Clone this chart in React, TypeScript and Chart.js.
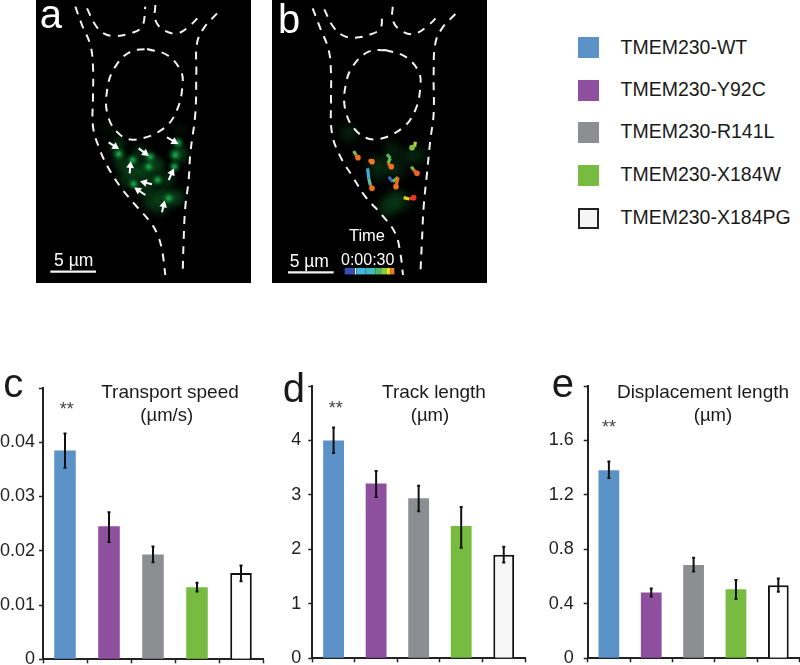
import React, { useEffect, useRef } from "react";
import { Chart, registerables } from "chart.js";

Chart.register(...registerables);

const FONT = '"Liberation Sans", Arial, sans-serif';

// ---------- bar data ----------
const categories = ["TMEM230-WT", "TMEM230-Y92C", "TMEM230-R141L", "TMEM230-X184W", "TMEM230-X184PG"];
const barColors = ["#5b93c9", "#8f4f9f", "#8c8e91", "#77bb41", "#ffffff"];

const speedValues = [0.0385, 0.0245, 0.0193, 0.0133, 0.0159];
const speedLow = [0.0353, 0.0216, 0.0179, 0.0125, 0.0144];
const speedHigh = [0.0416, 0.0271, 0.0208, 0.0141, 0.0173];
const speedTicks = ["0", "0.01", "0.02", "0.03", "0.04", ""];

const trackValues = [4.0, 3.21, 2.94, 2.43, 1.9];
const trackLow = [3.77, 2.96, 2.7, 2.03, 1.76];
const trackHigh = [4.24, 3.44, 3.17, 2.78, 2.05];
const trackTicks = ["0", "1", "2", "3", "4", ""];

const dispValues = [1.382, 0.483, 0.686, 0.507, 0.537];
const dispLow = [1.324, 0.453, 0.637, 0.436, 0.488];
const dispHigh = [1.446, 0.512, 0.738, 0.576, 0.586];
const dispTicks = ["0", "0.4", "0.8", "1.2", "1.6", ""];

// ---------- microscopy panel data (image coordinates) ----------
type P = [number, number];
const outlinesA: P[][] = [
  [[165,20],[185,75],[210,135],[218,200],[218,290],[218,380],[235,440],[262,500],[300,560],[345,615],[385,660],[410,700],[425,750],[435,825]],
  [[200,25],[225,75],[250,100],[280,108],[330,100],[365,80],[375,20]],
  [[405,15],[405,60],[430,90],[470,100],[505,80],[545,40]],
  [[590,40],[550,85],[530,130],[528,220],[525,340],[510,460],[505,540],[495,620],[490,720],[487,825]],
  [[380,147],[440,165],[480,210],[487,250],[470,330],[430,385],[350,418],[300,405],[262,345],[262,260],[285,200],[330,155],[380,147]],
];
const outlinesB: P[][] = [
  [[142,25],[165,85],[190,150],[197,220],[197,300],[200,400],[225,470],[262,530],[300,590],[350,645],[390,700],[405,760],[413,825]],
  [[177,28],[200,75],[230,105],[265,113],[310,105],[345,85],[350,40]],
  [[382,20],[382,60],[405,90],[445,102],[490,75],[520,45]],
  [[570,42],[530,85],[510,130],[505,220],[505,340],[495,420],[485,520],[475,620],[470,720],[465,825]],
  [[360,150],[420,170],[460,215],[465,260],[450,330],[410,385],[330,418],[275,395],[240,330],[242,250],[265,195],[310,155],[360,150]],
];
const spotsBright: P[] = [[295,462],[337,480],[390,470],[385,500],[412,540],[340,552],[445,595],[473,428],[465,465],[462,500]];
const spotsDimA: P[] = [[370,505],[410,590],[390,610],[470,465],[360,525],[430,585],[315,505],[340,510],[390,540],[300,480],[455,600],[400,490],[420,620],[480,460],[360,460],[320,540],[375,570],[440,540],[410,500],[470,590],[290,440]];
const spotsFaintA: P[] = [[265,385],[300,420],[480,390]];
const spotsDimB: P[] = [[380,600],[360,620],[460,465],[370,495],[250,400],[400,590],[340,520],[395,510],[330,490],[425,470],[375,625],[410,610],[380,450]];
const arrowTips: P[] = [[285,440],[375,460],[462,425],[330,497],[455,518],[372,547],[353,570],[430,615]];
const arrowTails: P[] = [[265,427],[355,445],[440,412],[328,520],[445,540],[395,553],[375,585],[425,637]];
const tracks: P[][] = [
  [[265,453],[272,465],[278,473]],
  [[310,480],[320,485]],
  [[365,463],[375,475],[368,490],[378,500]],
  [[307,505],[310,535],[315,555],[320,565]],
  [[370,530],[382,545],[398,532],[392,560]],
  [[438,500],[445,510],[455,520]],
  [[450,425],[448,440],[440,443]],
  [[415,593],[432,597],[445,593]],
];
const trackColors: string[][] = [
  ["#35a8e0","#7cc04a","#f0701f"],
  ["#5fbb55","#f07a20"],
  ["#3cb0e0","#55bb66","#6cc04a","#f0701f"],
  ["#3f6fc8","#3cb0e0","#60c0a0","#f0701f"],
  ["#3f50c0","#3f60c8","#5fbb55","#f0701f"],
  ["#3f60c8","#6cc04a","#f0601f"],
  ["#60c040","#b0d030","#80c040"],
  ["#50b860","#e8d020","#e83a20"],
];
const colorbarX = [238,268,269,273,274,300,330,350,365,375,387];
const colorbarY = [813.5,813.5,813.5,813.5,813.5,813.5,813.5,813.5,813.5,813.5,813.5];
const colorbarColors = ["#3b4eb5","#3b60c0","#ffffff","#ffffff","#40b8e0","#40b8c0","#50b860","#90c840","#f0e020","#f08020","#e82a20"];
const scaleBarA: P[] = [[90,815],[227,815]];
const scaleBarB: P[] = [[68,817],[205,817]];

type TextItem = { t: string; x: number; y: number; size: number; color?: string; align?: CanvasTextAlign };

const panelText = {
  id: "panelText",
  afterDraw(chart: any, _a: any, opts: any) {
    const ctx = chart.ctx;
    ctx.save();
    ctx.textBaseline = "alphabetic";
    (opts.items || []).forEach((it: TextItem) => {
      ctx.font = `${it.size}px ${FONT}`;
      ctx.fillStyle = it.color || "#1a1a1a";
      ctx.textAlign = it.align || "center";
      ctx.fillText(it.t, it.x, it.y);
    });
    ctx.restore();
  },
};

const errorBars = {
  id: "errorBars",
  afterDatasetsDraw(chart: any, _a: any, opts: any) {
    if (!opts.low) return;
    const ctx = chart.ctx;
    const meta = chart.getDatasetMeta(0);
    const y = chart.scales.y;
    ctx.save();
    ctx.strokeStyle = "#111";
    ctx.lineWidth = 2;
    meta.data.forEach((bar: any, i: number) => {
      const lo = y.getPixelForValue(opts.low[i]);
      const hi = y.getPixelForValue(opts.high[i]);
      ctx.beginPath();
      ctx.moveTo(bar.x, hi);
      ctx.lineTo(bar.x, lo);
      ctx.moveTo(bar.x - 1.5, hi);
      ctx.lineTo(bar.x + 1.5, hi);
      ctx.moveTo(bar.x - 1.5, lo);
      ctx.lineTo(bar.x + 1.5, lo);
      ctx.stroke();
    });
    ctx.restore();
  },
};

const softSpots = {
  id: "softSpots",
  beforeDatasetDraw(chart: any, args: any) {
    const b = chart.data.datasets[args.index].blurPx;
    if (b) {
      chart.ctx.save();
      chart.ctx.filter = `blur(${b}px)`;
    }
  },
  afterDatasetDraw(chart: any, args: any) {
    if (chart.data.datasets[args.index].blurPx) chart.ctx.restore();
  },
};

function useChart(make: (c: HTMLCanvasElement) => Chart) {
  const ref = useRef<HTMLCanvasElement>(null);
  useEffect(() => {
    const chart = make(ref.current!);
    return () => chart.destroy();
  }, []);
  return ref;
}

type BarProps = {
  left: number; width: number; values: number[]; low: number[]; high: number[]; ticks: string[];
  max: number; step: number; axisX: number; axisTop: number; axisBottom: number; padRight: number;
  labelPad: number; lastFill: string; items: TextItem[];
};
const CANVAS_TOP = 360;
const CANVAS_H = 305;

function BarPanel(p: BarProps) {
  const ref = useChart((c) =>
    new Chart(c, {
      type: "bar",
      data: {
        labels: categories,
        datasets: [{
          data: p.values,
          backgroundColor: barColors.map((col, i) => (i === 4 ? p.lastFill : col)),
          borderColor: ["transparent", "transparent", "transparent", "transparent", "#111"],
          borderWidth: [0, 0, 0, 0, 2],
          barPercentage: 0.49,
          categoryPercentage: 1,
        }],
      },
      options: {
        animation: false,
        responsive: false,
        devicePixelRatio: 1,
        layout: { autoPadding: false, padding: { top: p.axisTop - CANVAS_TOP, right: p.padRight, left: 0, bottom: 0 } },
        plugins: {
          legend: { display: false },
          tooltip: { enabled: false },
          panelText: { items: p.items },
          errorBars: { low: p.low, high: p.high },
        } as any,
        scales: {
          x: {
            grid: { drawOnChartArea: false, drawTicks: true, tickLength: 4, tickColor: "#222", tickWidth: 1.5 },
            border: { color: "#222", width: 2 },
            ticks: { display: false },
            afterFit: (s: any) => { s.height = CANVAS_TOP + CANVAS_H - p.axisBottom; },
          },
          y: {
            min: 0,
            max: p.max,
            grid: { drawOnChartArea: false, drawTicks: true, tickLength: 4, tickColor: "#222", tickWidth: 1.5 },
            border: { color: "#222", width: 2 },
            ticks: {
              stepSize: p.step,
              autoSkip: false,
              padding: p.labelPad,
              color: "#222",
              font: { family: FONT, size: 18 },
              callback: (_v: any, i: number) => p.ticks[i],
            },
            afterFit: (s: any) => {
              s.width = p.axisX - p.left;
              s.paddingTop = 0;
              s.paddingBottom = 0;
            },
          },
        },
      },
      plugins: [panelText, errorBars],
    } as any)
  );
  return (
    <canvas ref={ref} width={p.width} height={CANVAS_H}
      style={{ position: "absolute", left: p.left, top: CANVAS_TOP, width: p.width, height: CANVAS_H, display: "block" }} />
  );
}

const toXY = (pts: P[]) => pts.map(([x, y]) => ({ x, y }));

function outlineSets(outlines: P[][]) {
  return outlines.map((o) => ({
    data: toXY(o), showLine: true, borderColor: "#f2f2f2", borderWidth: 2, borderDash: [8, 7],
    tension: 0.4, pointRadius: 0,
  }));
}
function lineSet(pts: P[], w: number) {
  return { data: toXY(pts), showLine: true, borderColor: "#f4f4f4", borderWidth: w, pointRadius: 0 };
}
function spotSet(pts: P[], r: number, color: string, blur: number) {
  return { data: toXY(pts), showLine: false, pointRadius: r, pointBackgroundColor: color, pointBorderWidth: 0, blurPx: blur };
}

function ImagePanel(p: { left: number; xMin: number; datasets: any[]; items: TextItem[] }) {
  const ref = useChart((c) =>
    new Chart(c, {
      type: "scatter",
      data: { datasets: p.datasets },
      options: {
        animation: false,
        responsive: false,
        devicePixelRatio: 1,
        layout: { autoPadding: false, padding: 0 },
        plugins: { legend: { display: false }, tooltip: { enabled: false }, panelText: { items: p.items } } as any,
        scales: {
          x: { type: "linear", display: false, min: p.xMin, max: p.xMin + 645 },
          y: { type: "linear", display: false, min: 0, max: 849, reverse: true },
        },
      },
      plugins: [panelText, softSpots],
    } as any)
  );
  return (
    <canvas ref={ref} width={215} height={283}
      style={{ position: "absolute", left: p.left, top: 0, width: 215, height: 283, background: "#000", display: "block" }} />
  );
}

const arrowSets = arrowTips.map((tip, i) => {
  const tail = arrowTails[i];
  const angle = (Math.atan2(tip[0] - tail[0], tail[1] - tip[1]) * 180) / Math.PI;
  return {
    data: toXY([tail, tip]), showLine: true, borderColor: "#fff", borderWidth: 2,
    pointRadius: [0, 4.5], pointStyle: "triangle", pointRotation: angle,
    pointBackgroundColor: "#fff", pointBorderWidth: 0,
  };
});

const trackSets = tracks.map((t, i) => ({
  data: toXY(t), showLine: true, borderWidth: 3.2,
  borderColor: trackColors[i][0],
  segment: { borderColor: (c: any) => trackColors[i][c.p1DataIndex] },
  pointRadius: t.map((_, k) => (k === t.length - 1 ? 2.8 : 0)),
  pointBackgroundColor: trackColors[i], pointBorderWidth: 0,
}));

const colorbarSet = {
  data: colorbarX.map((x, i) => ({ x, y: colorbarY[i] })),
  showLine: true, borderWidth: 6.5, pointRadius: 0, borderCapStyle: "butt",
  borderColor: colorbarColors[0],
  segment: { borderColor: (c: any) => colorbarColors[c.p0DataIndex] },
};

const datasetsA = [
  ...arrowSets,
  lineSet(scaleBarA, 2.2),
  ...outlineSets(outlinesA),
  spotSet(spotsBright, 2.2, "rgba(30,190,90,0.85)", 1),
  spotSet(spotsBright, 5, "rgba(20,130,55,0.6)", 1.5),
  spotSet(spotsDimA, 8, "rgba(15,90,36,0.42)", 3),
  spotSet(spotsFaintA, 6, "rgba(15,70,30,0.2)", 3),
];
const datasetsB = [
  lineSet(scaleBarB, 2.2),
  colorbarSet,
  ...trackSets,
  ...outlineSets(outlinesB),
  spotSet(spotsDimB, 9, "rgba(15,80,34,0.33)", 3.5),
];

const legendRows = [47.7, 90.3, 132.3, 175, 218];
const legendFill = ["#5b93c9", "#8f4f9f", "#8c8e91", "#77bb41", "#f5f5f5"];

export default function App() {
  return (
    <div style={{ position: "absolute", left: 0, top: 0, width: 800, height: 665, background: "#fff", overflow: "hidden", filter: "blur(0.4px)" }}>
      <ImagePanel left={36} xMin={47} datasets={datasetsA} items={[
        { t: "a", x: 3.7, y: 28, size: 40, color: "#fff", align: "left" },
        { t: "5 µm", x: 37.7, y: 266, size: 17.5, color: "#fff" },
      ]} />
      <ImagePanel left={272} xMin={20} datasets={datasetsB} items={[
        { t: "b", x: 6, y: 32.7, size: 40, color: "#fff", align: "left" },
        { t: "5 µm", x: 37.3, y: 266.7, size: 17.5, color: "#fff" },
        { t: "Time", x: 95, y: 241, size: 16.5, color: "#fff" },
        { t: "0:00:30", x: 95.7, y: 265, size: 16, color: "#fff" },
      ]} />

      {categories.map((name, i) => (
        <React.Fragment key={name}>
          <div style={{
            position: "absolute", left: 578, top: legendRows[i] - 10.5, width: 21, height: 21, boxSizing: "border-box",
            background: legendFill[i], border: i === 4 ? "2px solid #222" : "none",
          }} />
          <div style={{
            position: "absolute", left: 620.5, top: legendRows[i] - 13, height: 24,
            font: `19.5px/24px ${FONT}`, color: "#1a1a1a", whiteSpace: "nowrap",
          }}>{name}</div>
        </React.Fragment>
      ))}

      <BarPanel left={0} width={270} values={speedValues} low={speedLow} high={speedHigh} ticks={speedTicks}
        max={0.05} step={0.01} axisX={43} axisTop={388} axisBottom={659.3} padRight={7} labelPad={4} lastFill="#ffffff"
        items={[
          { t: "c", x: 3.3, y: 396.7 - CANVAS_TOP, size: 40, align: "left" },
          { t: "Transport speed", x: 170, y: 398 - CANVAS_TOP, size: 19 },
          { t: "(µm/s)", x: 166.7, y: 421 - CANVAS_TOP, size: 18.5 },
          { t: "**", x: 66.7, y: 415 - CANVAS_TOP, size: 18, color: "#444" },
        ]} />
      <BarPanel left={270} width={270} values={trackValues} low={trackLow} high={trackHigh} ticks={trackTicks}
        max={5} step={1} axisX={312.3} axisTop={386} axisBottom={658.3} padRight={15} labelPad={7} lastFill="#f6f6f6"
        items={[
          { t: "d", x: 12.7, y: 401.7 - CANVAS_TOP, size: 40, align: "left" },
          { t: "Track length", x: 164, y: 398 - CANVAS_TOP, size: 19 },
          { t: "(µm)", x: 160, y: 421 - CANVAS_TOP, size: 18.5 },
          { t: "**", x: 65.7, y: 414 - CANVAS_TOP, size: 18, color: "#444" },
        ]} />
      <BarPanel left={530} width={270} values={dispValues} low={dispLow} high={dispHigh} ticks={dispTicks}
        max={2} step={0.4} axisX={587.7} axisTop={386} axisBottom={658.3} padRight={0.5} labelPad={10} lastFill="#ffffff"
        items={[
          { t: "e", x: 21.7, y: 396.7 - CANVAS_TOP, size: 40, align: "left" },
          { t: "Displacement length", x: 173, y: 398 - CANVAS_TOP, size: 19 },
          { t: "(µm)", x: 183, y: 421 - CANVAS_TOP, size: 18.5 },
          { t: "**", x: 79, y: 433 - CANVAS_TOP, size: 18, color: "#444" },
        ]} />
    </div>
  );
}
